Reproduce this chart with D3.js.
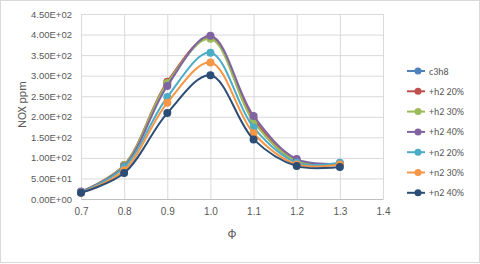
<!DOCTYPE html>
<html>
<head>
<meta charset="utf-8">
<script src="https://cdn.jsdelivr.net/npm/d3@7"></script>
<style>
  body { margin: 0; background: #fff; }
  svg { font-family: Calibri, Carlito, "Liberation Sans", Arial, sans-serif; }
</style>
</head>
<body>
<div id="chart"></div>
<script>
const phi = [0.7, 0.8, 0.9, 1.0, 1.1, 1.2, 1.3];

const c3h8 = [16, 80, 280, 392, 190, 90, 85];
const h2_20 = [17, 83, 285, 393, 195, 93, 85];
const h2_30 = [17, 82, 282, 390, 188, 92, 86];
const h2_40 = [18, 79, 275, 397, 202, 97, 86];
const n2_20 = [16, 77, 248, 356, 174, 88, 88];
const n2_30 = [15, 70, 234, 332, 160, 84, 84];
const n2_40 = [15, 63, 209, 301, 145, 80, 78];

const seriesNames = ['c3h8', '+h2 20%', '+h2 30%', '+h2 40%', '+n2 20%', '+n2 30%', '+n2 40%'];
const seriesColors = ['#4F81BD', '#C0504D', '#9BBB59', '#8064A2', '#4BACC6', '#F79646', '#2C4D75'];
const xTicks = [0.7, 0.8, 0.9, 1.0, 1.1, 1.2, 1.3, 1.4];
const yTicks = [0, 50, 100, 150, 200, 250, 300, 350, 400, 450];

const series = [c3h8, h2_20, h2_30, h2_40, n2_20, n2_30, n2_40].map((vals, i) => ({
  name: seriesNames[i],
  color: seriesColors[i],
  values: vals.map((v, j) => ({ x: phi[j], y: v })),
}));

const svgWidth = 480;
const svgHeight = 264;
const margin = { top: 14, right: 97, bottom: 65, left: 81 };
const width = svgWidth - margin.left - margin.right;
const height = svgHeight - margin.top - margin.bottom;

const xScale = d3.scaleLinear().domain([0.7, 1.4]).range([0, width]);
const yScale = d3.scaleLinear().domain([0, 450]).range([height, 0]);

const root = d3.select('#chart').append('svg')
  .attr('width', svgWidth)
  .attr('height', svgHeight);

root.append('rect')
  .attr('x', 0.5).attr('y', 0.5)
  .attr('width', svgWidth - 1).attr('height', svgHeight - 2)
  .attr('fill', '#fff')
  .attr('stroke', '#D9D9D9');

const svg = root.append('g')
  .attr('transform', `translate(${margin.left}, ${margin.top})`);

// gridlines
svg.append('g')
  .attr('class', 'grid')
  .call(d3.axisLeft(yScale).tickValues(yTicks).tickSize(-width).tickFormat(''))
  .call((g) => g.select('.domain').remove())
  .call((g) => g.selectAll('line').attr('stroke', '#D9D9D9'));

svg.append('g')
  .attr('class', 'grid')
  .call(d3.axisBottom(xScale).tickValues(xTicks).tickSize(height).tickFormat(''))
  .call((g) => g.select('.domain').remove())
  .call((g) => g.selectAll('line').attr('stroke', '#D9D9D9'));

// axes
svg.append('g')
  .attr('class', 'x axis')
  .attr('transform', `translate(0, ${height})`)
  .call(d3.axisBottom(xScale).tickValues(xTicks).tickSize(0).tickPadding(9).tickFormat(d3.format('.1f')))
  .call((g) => g.select('.domain').attr('stroke', '#BFBFBF'))
  .call((g) => g.selectAll('text').attr('fill', '#595959').attr('font-size', 10));

svg.append('g')
  .attr('class', 'y axis')
  .call(d3.axisLeft(yScale).tickValues(yTicks).tickSize(0).tickPadding(9)
    .tickFormat((d) => d.toExponential(2).replace(/e([+-])(\d)$/, 'E$10$2').toUpperCase()))
  .call((g) => g.select('.domain').remove())
  .call((g) => g.selectAll('text').attr('fill', '#595959').attr('font-size', 9.5));

// axis titles
root.append('text')
  .attr('transform', `translate(26, ${margin.top + height / 2 - 2}) rotate(-90)`)
  .attr('text-anchor', 'middle')
  .attr('fill', '#595959')
  .attr('font-size', 12)
  .text('NOX ppm');

root.append('text')
  .attr('x', margin.left + width / 2)
  .attr('y', 237)
  .attr('text-anchor', 'middle')
  .attr('fill', '#595959')
  .attr('font-size', 13)
  .text('ϕ');

// lines
const line = d3.line()
  .x((d) => xScale(d.x))
  .y((d) => yScale(d.y))
  .curve(d3.curveCatmullRom.alpha(0.5));

series.forEach((s) => {
  svg.append('path')
    .datum(s.values)
    .attr('fill', 'none')
    .attr('stroke', s.color)
    .attr('stroke-width', 2)
    .attr('d', line);

  svg.selectAll(null)
    .data(s.values)
    .enter().append('circle')
    .attr('cx', (d) => xScale(d.x))
    .attr('cy', (d) => yScale(d.y))
    .attr('r', 4)
    .attr('fill', s.color);
});

// legend
const legend = root.append('g')
  .attr('transform', 'translate(407, 71)');

series.forEach((s, i) => {
  const row = legend.append('g').attr('transform', `translate(0, ${i * 20.3})`);
  row.append('line')
    .attr('x1', 0).attr('x2', 18)
    .attr('stroke', s.color).attr('stroke-width', 2);
  row.append('circle')
    .attr('cx', 11).attr('r', 3.5).attr('fill', s.color);
  row.append('text')
    .attr('x', 22).attr('dy', '0.35em')
    .attr('fill', '#595959')
    .attr('font-size', 10)
    .text(s.name);
});
</script>
</body>
</html>
